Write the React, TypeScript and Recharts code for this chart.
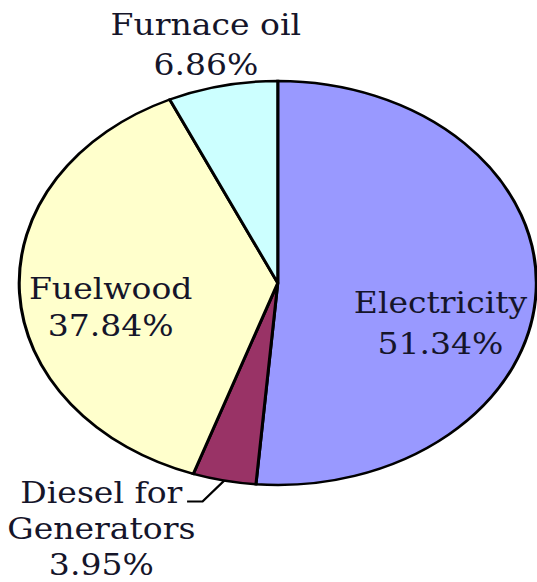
import React from 'react'
import { PieChart, Pie, Cell } from 'recharts'

// Energy use by source, percent of total
const categories = ['Electricity', 'Diesel for\nGenerators', 'Fuelwood', 'Furnace oil']
const shares = [51.34, 3.95, 37.84, 6.86]
const colors = ['#9999FF', '#993366', '#FFFFCC', '#CCFFFF']

const data = categories.map((name, i) => ({ name, value: shares[i] }))

// the whole chart is stretched sideways, so the pie comes out as an ellipse
const STRETCH = 1.28
// labels get squeezed back a little so the serif face is not too wide
const TEXT_SQUEEZE = 0.89
const RADIAN = Math.PI / 180
const FONT = 'DejaVu Serif'

// where each label sits: k = fraction of the radius along the slice's mid angle,
// dx/dy shift the first baseline, lh = line height
const placement: Record<string, { k: number; dx: number; dy: number; lh: number }> = {
  Electricity: { k: 0.63, dx: 0, dy: 25, lh: 40.5 },
  'Diesel for\nGenerators': { k: 1, dx: -96, dy: 22, lh: 36 },
  Fuelwood: { k: 0.647, dx: 0, dy: 10, lh: 37 },
  'Furnace oil': { k: 1.3, dx: 0, dy: 9, lh: 40 },
}

const renderLabel = (props: any) => {
  const { cx, cy, midAngle, outerRadius, name, value } = props
  const p = placement[name]
  const r = outerRadius * p.k
  const ax = cx + r * Math.cos(-midAngle * RADIAN)
  const ay = cy + r * Math.sin(-midAngle * RADIAN)
  const lines = [...name.split('\n'), `${value.toFixed(2)}%`]
  const x = ax + p.dx
  const y = ay + p.dy
  return (
    <g>
      {p.k === 1 && (
        <polyline
          points={`${ax},${ay} ${ax - 17},${ay + 21} ${ax - 29},${ay + 21}`}
          fill="none"
          stroke="#000"
          strokeWidth={2}
        />
      )}
      <g transform={`translate(${x},${y}) scale(${TEXT_SQUEEZE},1)`}>
        <text x={0} y={0} textAnchor="middle" fontFamily={FONT} fontSize={29} fill="#15152a">
          {lines.map((line, i) => (
            <tspan key={i} x={0} y={i * p.lh}>
              {line}
            </tspan>
          ))}
        </text>
      </g>
    </g>
  )
}

export default function App() {
  return (
    <div
      style={{
        position: 'absolute',
        left: 0,
        top: 0,
        width: 537,
        height: 582,
        overflow: 'hidden',
        background: '#fff',
      }}
    >
      <div style={{ transform: `scaleX(${STRETCH})`, transformOrigin: '0 0', width: 420 }}>
        <PieChart width={420} height={582} margin={{ top: 0, right: 0, bottom: 0, left: 0 }}>
          <Pie
            data={data}
            dataKey="value"
            nameKey="name"
            cx={217}
            cy={283}
            outerRadius={202}
            startAngle={90}
            endAngle={-270}
            stroke="#000"
            strokeWidth={2.4}
            label={renderLabel}
            labelLine={false}
            isAnimationActive={false}
          >
            {data.map((d, i) => (
              <Cell key={d.name} fill={colors[i]} />
            ))}
          </Pie>
        </PieChart>
      </div>
    </div>
  )
}
